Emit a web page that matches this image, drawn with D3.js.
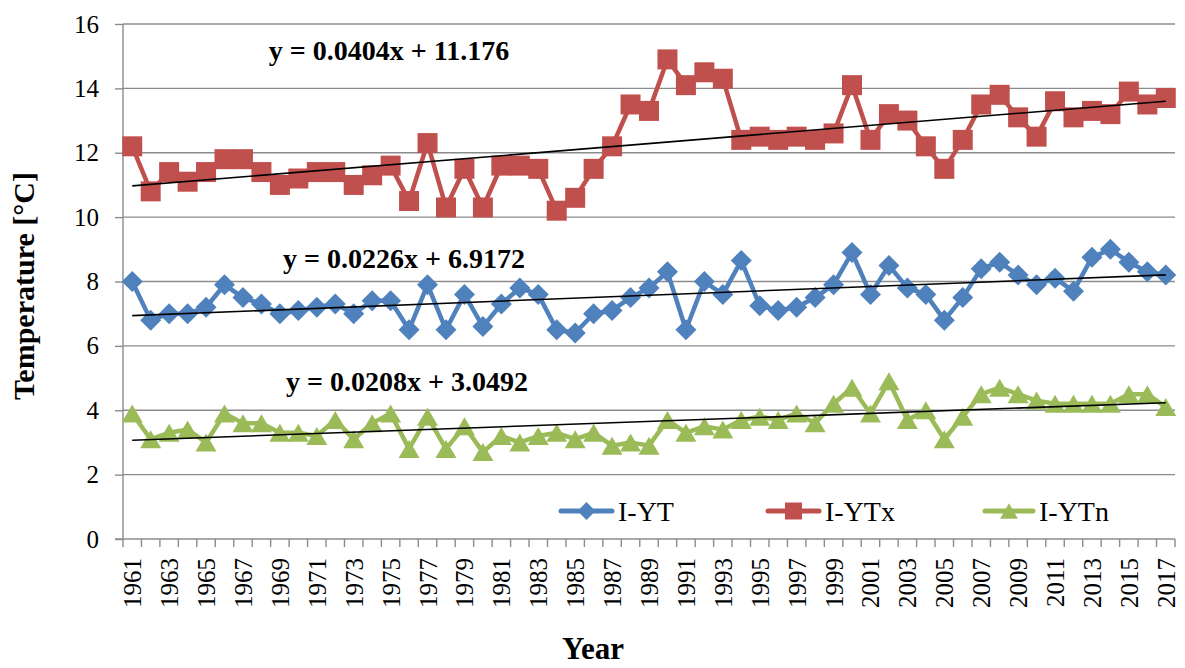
<!DOCTYPE html>
<html><head><meta charset="utf-8">
<script src="https://cdn.jsdelivr.net/npm/d3@7"></script>
<style>body{margin:0;background:#fff}svg{display:block}svg text{font-family:"Liberation Serif","Times New Roman",serif !important}</style>
</head><body>
<svg id="c" width="1185" height="668"></svg>
<script>
const years = d3.range(1961, 2018);
const ytx = [12.2,10.8,11.4,11.1,11.4,11.8,11.8,11.4,11.0,11.2,11.4,11.4,11.0,11.3,11.6,10.5,12.3,10.3,11.5,10.3,
  11.6,11.6,11.5,10.2,10.6,11.5,12.2,13.5,13.3,14.9,14.1,14.5,14.3,12.4,12.5,12.4,12.5,12.4,12.6,14.1,
  12.4,13.2,13.0,12.2,11.5,12.4,13.5,13.8,13.1,12.5,13.6,13.1,13.3,13.2,13.9,13.5,13.7];
const yt = [8.0,6.8,7.0,7.0,7.2,7.9,7.5,7.3,7.0,7.1,7.2,7.3,7.0,7.4,7.4,6.5,7.9,6.5,7.6,6.6,
  7.3,7.8,7.6,6.5,6.4,7.0,7.1,7.5,7.8,8.3,6.5,8.0,7.6,8.65,7.25,7.1,7.2,7.5,7.9,8.9,
  7.6,8.5,7.8,7.6,6.8,7.5,8.4,8.6,8.2,7.9,8.1,7.7,8.75,9.0,8.6,8.3,8.2];
const ytn = [3.9,3.1,3.3,3.4,3.0,3.9,3.6,3.6,3.3,3.3,3.2,3.7,3.1,3.6,3.9,2.8,3.8,2.8,3.5,2.7,
  3.2,3.0,3.2,3.3,3.1,3.3,2.9,3.0,2.9,3.7,3.3,3.5,3.4,3.7,3.8,3.7,3.9,3.6,4.2,4.7,
  3.9,4.9,3.7,4.0,3.1,3.8,4.5,4.7,4.5,4.3,4.2,4.2,4.2,4.2,4.5,4.5,4.1];
const yTicks = [0,2,4,6,8,10,12,14,16];
const seriesNames = ["I-YT","I-YTx","I-YTn"];
const seriesColors = ["#4F81BD","#C0504D","#9BBB59"];
const equations = ["y = 0.0226x + 6.9172","y = 0.0404x + 11.176","y = 0.0208x + 3.0492"];

const FONT = "Liberation Serif";
const svg = d3.select("#c");
const L = 123, R = 1175, T = 24, B = 539;
const x = d3.scaleBand().domain(years).range([L, R]);
const cx = d => x(d) + x.bandwidth()/2;
const y = d3.scaleLinear().domain([0,16]).range([B, T]);
const GRID = "#8c8c8c";

// gridlines
svg.append("g").selectAll("line").data(yTicks.filter(v=>v>0)).join("line")
  .attr("x1", L).attr("x2", R).attr("y1", d=>y(d)).attr("y2", d=>y(d))
  .attr("stroke", GRID).attr("stroke-width", 1.4);

// y axis
const ya = svg.append("g").attr("transform", `translate(${L},0)`)
  .call(d3.axisLeft(y).tickValues(yTicks).tickSize(8).tickPadding(16));
ya.attr("font-family", FONT);
ya.selectAll("path,line").attr("stroke",GRID).attr("stroke-width",1.4);
ya.select(".domain").attr("d", `M0,${T}V${B}`);
ya.selectAll("text").attr("font-size", 25).attr("fill","#000").style("font-family",FONT);

// x axis
const xa = svg.append("g").attr("transform", `translate(0,${B})`);
xa.append("line").attr("x1", L-8).attr("x2", R).attr("stroke",GRID).attr("stroke-width",1.4);
const bounds = years.map(d=>x(d)).concat([R]);
xa.selectAll("line.t").data(bounds).join("line").attr("class","t")
  .attr("x1", d=>d).attr("x2", d=>d)
  .attr("y1",0).attr("y2",8).attr("stroke",GRID).attr("stroke-width",1.4);
xa.selectAll("text").data(years.filter((d,i)=>i%2===0)).join("text")
  .attr("transform", d=>`translate(${cx(d)+9},19) rotate(-90)`)
  .attr("text-anchor","end").attr("font-size",25).style("font-family",FONT).text(d=>d);

// titles
svg.append("text").attr("x", 593).attr("y", 659).attr("text-anchor","middle")
  .attr("font-size", 31).attr("font-weight","bold").style("font-family",FONT).text("Year");
svg.append("text").attr("transform", `translate(34,286) rotate(-90)`).attr("text-anchor","middle")
  .attr("font-size", 30).attr("font-weight","bold").style("font-family",FONT).text("Temperature [°C]");

const data = [yt, ytx, ytn];

function sym(i, s) {
  s = s || 1;
  if (i===0) { const h = 10.5*s; return `M0,${-h}L${h},0L0,${h}L${-h},0Z`; }
  if (i===1) { const h = 10*s; return `M${-h},${-h}H${h}V${h}H${-h}Z`; }
  const w = 10.5*s, h = 9*s; return `M0,${-h}L${w},${h}L${-w},${h}Z`;
}

data.forEach((vals, i) => {
  const line = d3.line().x((d,j)=>cx(years[j])).y(d=>y(d));
  svg.append("path").datum(vals).attr("d", line).attr("fill","none")
    .attr("stroke", seriesColors[i]).attr("stroke-width", 4.5).attr("stroke-linejoin","round");
  svg.append("g").selectAll("path").data(vals).join("path")
    .attr("d", sym(i))
    .attr("transform", (d,j)=>`translate(${cx(years[j])},${y(d)})`)
    .attr("fill", seriesColors[i]);
});

// trend lines from least squares
data.forEach((vals) => {
  const n = vals.length;
  const xs = d3.range(1, n+1);
  const mx = d3.mean(xs), my = d3.mean(vals);
  const b = d3.sum(xs.map((xv,k)=>(xv-mx)*(vals[k]-my))) / d3.sum(xs.map(xv=>(xv-mx)**2));
  const a = my - b*mx;
  svg.append("line")
    .attr("x1", cx(years[0])).attr("x2", cx(years[n-1]))
    .attr("y1", y(a + b*1)).attr("y2", y(a + b*n))
    .attr("stroke","#000").attr("stroke-width",1.6);
});

// equations
const eqPos = [[404, 268], [389, 60], [407, 391]];
equations.forEach((e,i)=>{
  svg.append("text").attr("x", eqPos[i][0]).attr("y", eqPos[i][1]).attr("text-anchor","middle")
    .attr("font-size", 28).attr("font-weight","bold").style("font-family",FONT).text(e);
});

// legend
const leg = [[558, 615, 618], [765, 822, 825], [982, 1036, 1039]];
seriesNames.forEach((nm,i)=>{
  const g = svg.append("g");
  const x0 = leg[i][0], x1 = leg[i][1];
  g.append("line").attr("x1",x0+3).attr("x2",x1-3).attr("y1",511).attr("y2",511)
    .attr("stroke",seriesColors[i]).attr("stroke-width",5).attr("stroke-linecap","round");
  g.append("path").attr("d", sym(i, 0.85))
    .attr("transform", `translate(${(x0+x1)/2},511)`).attr("fill",seriesColors[i]);
  g.append("text").attr("x", leg[i][2]).attr("y", 521).attr("font-size",28).style("font-family",FONT).text(nm);
});
</script>
</body></html>
